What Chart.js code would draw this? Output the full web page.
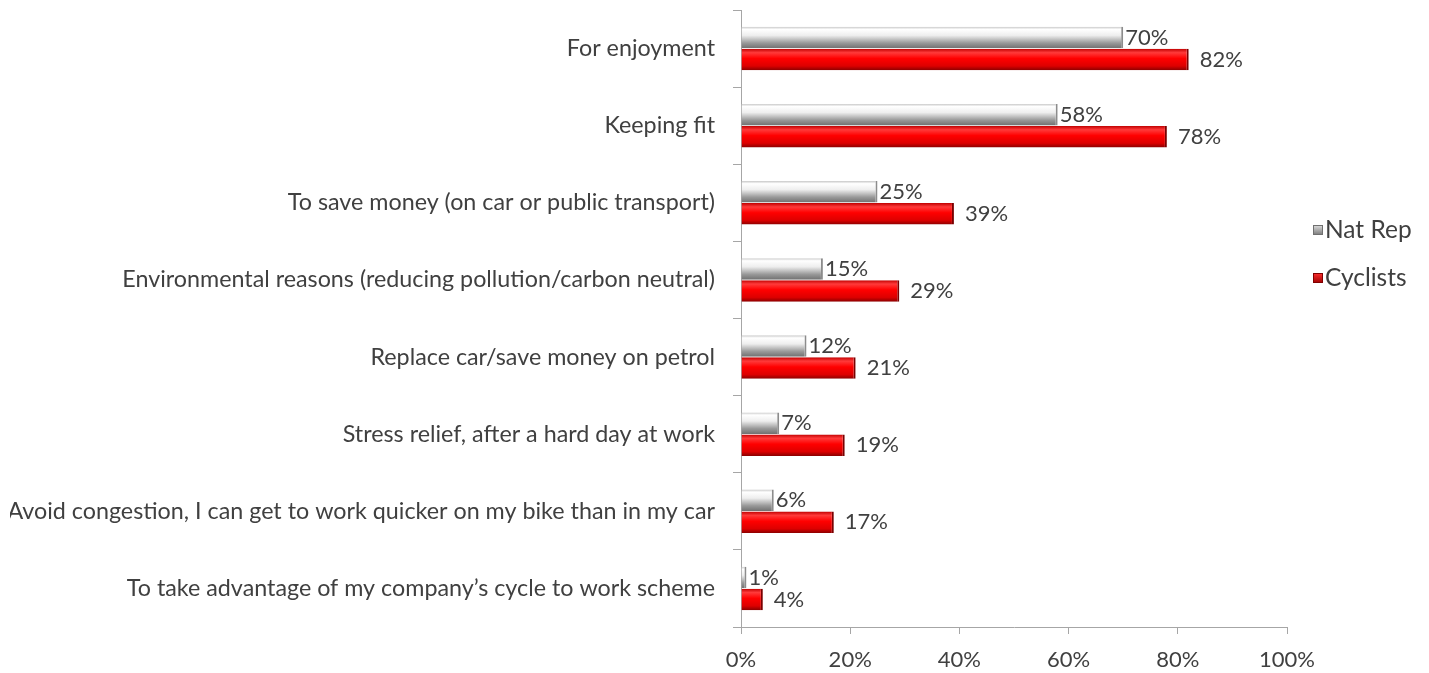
<!DOCTYPE html>
<html>
<head>
<meta charset="utf-8">
<script src="https://cdn.jsdelivr.net/npm/chart.js@4.4.0/dist/chart.umd.min.js"></script>
<style>
html,body{margin:0;padding:0;background:#fff;overflow:hidden;}
#wrap{width:1429px;height:673px;position:relative;}
</style>
</head>
<body>
<div id="wrap"><canvas id="c" width="1429" height="673"></canvas></div>
<script>
const categories = [
  "For enjoyment",
  "Keeping fit",
  "To save money (on car or public transport)",
  "Environmental reasons (reducing pollution/carbon neutral)",
  "Replace car/save money on petrol",
  "Stress relief, after a hard day at work",
  "Avoid congestion, I can get to work quicker on my bike than in my car",
  "To take advantage of my company\u2019s cycle to work scheme"
];
const natRep = [70, 58, 25, 15, 12, 7, 6, 1];
const cyclists = [82, 78, 39, 29, 21, 19, 17, 4];
const xTicks = [0, 20, 40, 60, 80, 100];
const seriesNames = ["Nat Rep", "Cyclists"];

const FONT = "Lato, 'Open Sans', sans-serif";
const FSIZE = 22;
const YSIZE = 23.3;
const LSIZE = 24.5;
const TEXT = "#404040";
const AXIS = "#a6a6a6";

function gradFor(ctx, el, idx){
  const top = el.y - el.height/2, bot = el.y + el.height/2;
  const g = ctx.createLinearGradient(0, top, 0, bot);
  if (idx === 0){
    g.addColorStop(0, "#c8c8c8");
    g.addColorStop(0.12, "#ffffff");
    g.addColorStop(0.4, "#eeeeee");
    g.addColorStop(0.75, "#999999");
    g.addColorStop(1, "#707070");
  } else {
    g.addColorStop(0, "#c00000");
    g.addColorStop(0.18, "#ff3a3a");
    g.addColorStop(0.45, "#ff0000");
    g.addColorStop(0.8, "#dd0000");
    g.addColorStop(1, "#8a0000");
  }
  return g;
}

const gradientPlugin = {
  id: "grad",
  beforeDatasetsDraw(chart){
    const ctx = chart.ctx;
    chart.data.datasets.forEach((ds, i) => {
      chart.getDatasetMeta(i).data.forEach(el => {
        el.options.backgroundColor = gradFor(ctx, el, i);
      });
    });
  }
};

const labelPlugin = {
  id: "vals",
  afterDatasetsDraw(chart){
    const ctx = chart.ctx;
    ctx.save();
    ctx.font = FSIZE + "px " + FONT;
    ctx.fillStyle = TEXT;
    ctx.textBaseline = "middle";
    ctx.textAlign = "left";
    chart.data.datasets.forEach((ds, i) => {
      chart.getDatasetMeta(i).data.forEach((el, j) => {
        const off = i === 0 ? 2 : 11;
        ctx.fillText(ds.data[j] + "%", el.x + off, el.y);
      });
    });
    ctx.restore();
  }
};

const legendPlugin = {
  id: "customLegend",
  afterDraw(chart){
    const ctx = chart.ctx;
    const a = chart.chartArea;
    const x = a.right + 26;
    const y0 = a.top + 220;
    ctx.save();
    ctx.font = LSIZE + "px " + FONT;
    ctx.textBaseline = "middle";
    ctx.textAlign = "left";
    chart.data.datasets.forEach((ds, i) => {
      const y = y0 + i * 48;
      const g = ctx.createLinearGradient(0, y - 5, 0, y + 5);
      if (i === 0){ g.addColorStop(0, "#e0e0e0"); g.addColorStop(1, "#777777"); }
      else { g.addColorStop(0, "#ff3030"); g.addColorStop(1, "#a00000"); }
      ctx.fillStyle = g;
      ctx.fillRect(x, y - 5, 10, 10);
      ctx.strokeStyle = i === 0 ? "#707070" : "#800000";
      ctx.lineWidth = 1;
      ctx.strokeRect(x + 0.5, y - 4.5, 9, 9);
      ctx.fillStyle = TEXT;
      ctx.fillText(ds.label, x + 12, y);
    });
    ctx.restore();
  }
};

new Chart(document.getElementById("c"), {
  type: "bar",
  data: {
    labels: categories,
    datasets: [
      { label: seriesNames[0], data: natRep, backgroundColor: () => "#d9d9d9",
        borderColor: "#8c8c8c", borderWidth: {right: 2, top: 0, bottom: 0, left: 0}, borderSkipped: false },
      { label: seriesNames[1], data: cyclists, backgroundColor: () => "#ff0000",
        borderColor: "#7a0000", borderWidth: {right: 2, top: 0, bottom: 0, left: 0}, borderSkipped: false }
    ]
  },
  options: {
    indexAxis: "y",
    responsive: false,
    animation: false,
    devicePixelRatio: 1,
    categoryPercentage: 0.57,
    barPercentage: 0.98,
    layout: { padding: { left: 10, right: 142, top: 10, bottom: 0 } },
    plugins: { legend: { display: false }, tooltip: { enabled: false } },
    scales: {
      x: {
        min: 0, max: 100,
        afterBuildTicks(s){ s.ticks = xTicks.map(v => ({value: v})); },
        afterFit(s){ s.height = 46; s.paddingLeft = 0; s.paddingRight = 0; },
        ticks: { callback: v => v + "%", color: TEXT, font: { family: FONT, size: FSIZE }, padding: 13, maxRotation: 0 },
        grid: { drawOnChartArea: false, drawTicks: true, tickLength: 7, color: AXIS },
        border: { color: AXIS, width: 1 }
      },
      y: {
        afterFit(s){ s.width = 731; s.paddingTop = 0; s.paddingBottom = 0; },
        ticks: { color: TEXT, font: { family: FONT, size: YSIZE }, padding: 18, autoSkip: false },
        grid: { drawOnChartArea: false, drawTicks: true, tickLength: 8, color: AXIS, offset: true },
        border: { color: AXIS, width: 1 }
      }
    }
  },
  plugins: [gradientPlugin, labelPlugin, legendPlugin]
});
</script>
</body>
</html>
